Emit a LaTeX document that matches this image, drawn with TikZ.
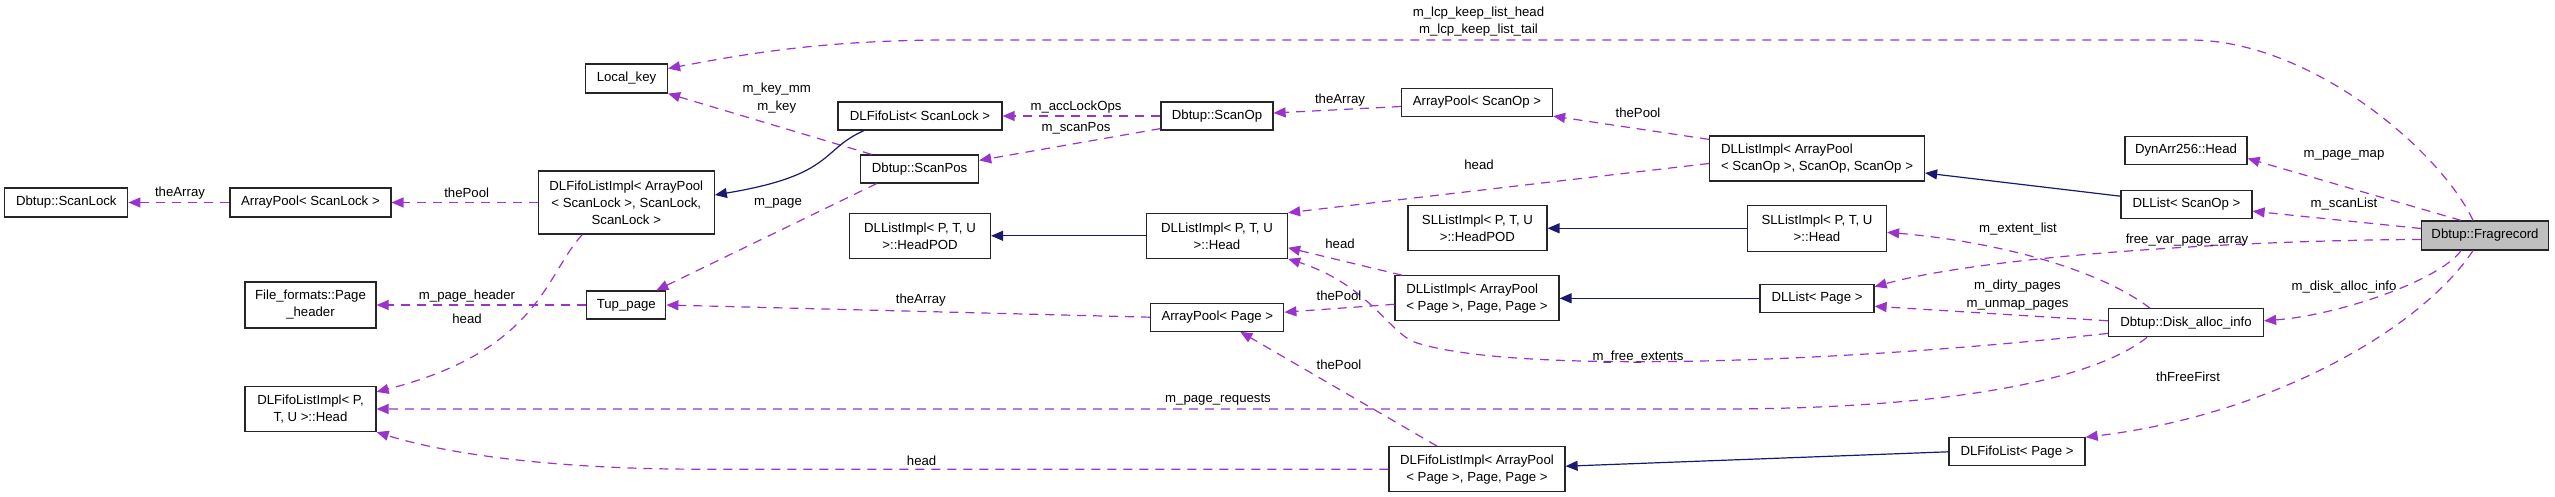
\documentclass[tikz,border=0pt]{standalone}
\usepackage{fontspec}
\setmainfont{Liberation Sans}
\usetikzlibrary{arrows.meta}
\definecolor{usecol}{HTML}{9A32CD}
\definecolor{inhcol}{HTML}{191970}
\tikzset{
  cls/.style={draw=black!85, line width=1.2pt, fill=white, inner sep=0pt, align=center, font=\fontsize{13.2}{17}\selectfont},
  cur/.style={cls, fill=black!25},
  lbl/.style={inner sep=0pt, align=center, font=\fontsize{13.2}{17.5}\selectfont},
  use/.style={draw=usecol, line width=1.2pt, dash pattern=on 9pt off 7pt, -{Triangle[length=12pt,width=10pt]}},
  inh/.style={draw=inhcol, line width=1.2pt, -{Triangle[length=12pt,width=10pt]}},
}
\begin{document}
\begin{tikzpicture}[x=1pt,y=-1pt]
\useasboundingbox (0,0) rectangle (2555,497);
% nodes
\node[cls, minimum width=123pt, minimum height=29pt] (scanlock) at (66.3,202.5) {Dbtup::ScanLock};
\node[cls, minimum width=161pt, minimum height=29pt] (apScanLock) at (310.4,202.5) {ArrayPool< ScanLock >};
\node[cls, minimum width=176pt, minimum height=63pt] (dlfImplScanLock) at (626.3,202.5) {DLFifoListImpl< ArrayPool\\< ScanLock >, ScanLock,\\ScanLock >};
\node[cls, minimum width=82pt, minimum height=29pt] (localkey) at (626.5,78.5) {Local\_key};
\node[cls, minimum width=131pt, minimum height=46pt] (pageheader) at (310.5,305) {File\_formats::Page\\\_header};
\node[cls, minimum width=131pt, minimum height=45pt] (dlfHead) at (310.5,409) {DLFifoListImpl< P,\\T, U >::Head};
\node[cls, minimum width=79pt, minimum height=28pt] (tuppage) at (626.3,305) {Tup\_page};
\node[cls, minimum width=164pt, minimum height=28pt] (dlfScanLock) at (920,116) {DLFifoList< ScanLock >};
\node[cls, minimum width=112pt, minimum height=28pt] (scanop) at (1217,116) {Dbtup::ScanOp};
\node[cls, minimum width=118pt, minimum height=28pt] (scanpos) at (919.6,169) {Dbtup::ScanPos};
\node[cls, minimum width=141pt, minimum height=45pt] (dlHeadPOD) at (920,235.8) {DLListImpl< P, T, U\\>::HeadPOD};
\node[cls, minimum width=141pt, minimum height=45pt] (dlHead) at (1217,235.8) {DLListImpl< P, T, U\\>::Head};
\node[cls, minimum width=151pt, minimum height=28pt] (apScanOp) at (1477,102.5) {ArrayPool< ScanOp >};
\node[cls, align=left, minimum width=215pt, minimum height=45pt] (dlImplScanOp) at (1817,158.5) {DLListImpl< ArrayPool\\< ScanOp >, ScanOp, ScanOp >};
\node[cls, minimum width=139pt, minimum height=45pt] (slHeadPOD) at (1477.4,228.3) {SLListImpl< P, T, U\\>::HeadPOD};
\node[cls, minimum width=139pt, minimum height=46pt] (slHead) at (1817,228.3) {SLListImpl< P, T, U\\>::Head};
\node[cls, minimum width=133pt, minimum height=28pt] (apPage) at (1217.3,317.2) {ArrayPool< Page >};
\node[cls, align=left, minimum width=164pt, minimum height=45pt] (dlImplPage) at (1477,298.3) {DLListImpl< ArrayPool\\< Page >, Page, Page >};
\node[cls, minimum width=114pt, minimum height=28pt] (dlListPage) at (1817,298.3) {DLList< Page >};
\node[cls, minimum width=176pt, minimum height=45pt] (dlfImplPage) at (1477,469.2) {DLFifoListImpl< ArrayPool\\< Page >, Page, Page >};
\node[cls, minimum width=122pt, minimum height=28pt] (dynarr) at (2186,150.5) {DynArr256::Head};
\node[cls, minimum width=131pt, minimum height=28pt] (dlListScanOp) at (2186.5,204.2) {DLList< ScanOp >};
\node[cur, minimum width=127pt, minimum height=29pt] (frag) at (2485,235.5) {Dbtup::Fragrecord};
\node[cls, minimum width=155pt, minimum height=28pt] (diskalloc) at (2186,322.8) {Dbtup::Disk\_alloc\_info};
\node[cls, minimum width=136pt, minimum height=28pt] (dlfPage) at (2017,451.8) {DLFifoList< Page >};
% usage edges
\draw[use] (apScanLock) -- (scanlock);
\draw[use] (dlfImplScanLock) -- (apScanLock);
\draw[use] ([xshift=-44pt]dlfImplScanLock.south) .. controls (545,275) and (540,350) .. ([yshift=-6pt]dlfHead.north east);
\draw[use] ([xshift=-48pt]scanpos.north) -- (localkey.south east);
\draw[use] (scanop) -- (dlfScanLock);
\draw[use] ([yshift=2pt]scanop.south west) -- ([yshift=-6pt]scanpos.north east);
\draw[use] ([xshift=-43pt]scanpos.south) -- ([xshift=30pt]tuppage.north);
\draw[use] (apPage.west) -- (tuppage.east);
\draw[use] (tuppage) -- (pageheader);
\draw[use] ([yshift=-4pt]apScanOp.west) -- ([yshift=3pt]scanop.east);
\draw[use] ([yshift=-4pt]dlImplScanOp.north west) -- ([yshift=1pt]apScanOp.south east);
\draw[use] ([yshift=-5pt]dlImplScanOp.west) -- (dlHead.north east);
\draw[use] ([xshift=-75pt]dlImplPage.north) -- ([yshift=-12pt]dlHead.east);
\draw[use] ([yshift=-6pt]dlImplPage.west) -- ([yshift=5pt]apPage.east);
\draw[use] ([yshift=4pt]diskalloc.south west) .. controls (1850,362) and (1520,375) .. (1417,343) .. controls (1390,335) and (1370,285) .. (dlHead.south east);
\draw[use] ([xshift=-39pt]diskalloc.south) .. controls (2080,390) and (1900,409) .. (1720,409) -- (dlfHead.east);
\draw[use] ([xshift=-36pt]diskalloc.north) .. controls (2100,270) and (2000,242) .. ([yshift=-4pt]slHead.east);
\draw[use] ([yshift=2pt]diskalloc.west) -- ([yshift=-8pt]dlListPage.east);
\draw[use] ([xshift=-12pt]frag.north) .. controls (2440,150) and (2310,40) .. (2190,40) -- (950,40) .. controls (820,40) and (740,55) .. ([yshift=10pt]localkey.east);
\draw[use] ([xshift=-24pt]frag.north) -- ([yshift=-8pt]dynarr.east);
\draw[use] ([yshift=7pt]frag.west) -- ([yshift=-7pt]dlListScanOp.east);
\draw[use] ([yshift=-4pt]frag.west) .. controls (2250,240) and (1990,255) .. ([yshift=11.6pt]dlListPage.east);
\draw[use] ([xshift=-24pt]frag.south) .. controls (2440,280) and (2340,315) .. ([yshift=2pt]diskalloc.east);
\draw[use] ([xshift=-12pt]frag.south) .. controls (2420,330) and (2270,415) .. (dlfPage.north east);
\draw[use] ([xshift=-40pt]dlfImplPage.north) -- ([xshift=23pt]apPage.south);
\draw[use] (dlfImplPage.west) -- (700,469.2) .. controls (560,469.2) and (450,455) .. (dlfHead.south east);
% inheritance edges
\draw[inh] ([xshift=-56pt]dlfScanLock.south) .. controls (820,150) and (835,175) .. ([yshift=7.5pt]dlfImplScanLock.east);
\draw[inh] (dlHead) -- (dlHeadPOD);
\draw[inh] (slHead) -- (slHeadPOD);
\draw[inh] ([yshift=8pt]dlListScanOp.west) -- ([yshift=-14.5pt]dlImplScanOp.east);
\draw[inh] (dlListPage) -- (dlImplPage);
\draw[inh] (dlfPage.west) -- ([yshift=3pt]dlfImplPage.east);
% labels
\node[lbl] (l1) at (180,192.7) {theArray};
\node[lbl] (l2) at (466.7,192.7) {thePool};
\node[lbl] (l3) at (467,318.3) {head};
\node[lbl] (l4) at (467,296) {m\_page\_header};
\node[lbl] (l5) at (776.7,98.3) {m\_key\_mm\\m\_key};
\node[lbl] (l6) at (1076,106.7) {m\_accLockOps};
\node[lbl] (l7) at (1076,128.3) {m\_scanPos};
\node[lbl] (l8) at (778,203.3) {m\_page};
\node[lbl] (l9) at (920.8,300) {theArray};
\node[lbl] (l10) at (1218,400) {m\_page\_requests};
\node[lbl] (l11) at (921.6,460.7) {head};
\node[lbl] (l12) at (1478.5,21.7) {m\_lcp\_keep\_list\_head\\m\_lcp\_keep\_list\_tail};
\node[lbl] (l13) at (1340,100) {theArray};
\node[lbl] (l14) at (1638,112.7) {thePool};
\node[lbl] (l15) at (1479,164.3) {head};
\node[lbl] (l16) at (1340,243.3) {head};
\node[lbl] (l17) at (1339,296) {thePool};
\node[lbl] (l18) at (1339,364.3) {thePool};
\node[lbl] (l19) at (1638,356.7) {m\_free\_extents};
\node[lbl] (l20) at (2344,155.7) {m\_page\_map};
\node[lbl] (l21) at (2344,204.3) {m\_scanList};
\node[lbl] (l22) at (2018,229) {m\_extent\_list};
\node[lbl] (l23) at (2187,240) {free\_var\_page\_array};
\node[lbl] (l24) at (2017.5,295.3) {m\_dirty\_pages\\m\_unmap\_pages};
\node[lbl] (l25) at (2344,286.7) {m\_disk\_alloc\_info};
\node[lbl] (l26) at (2188,376.7) {thFreeFirst};
\end{tikzpicture}
\end{document}
